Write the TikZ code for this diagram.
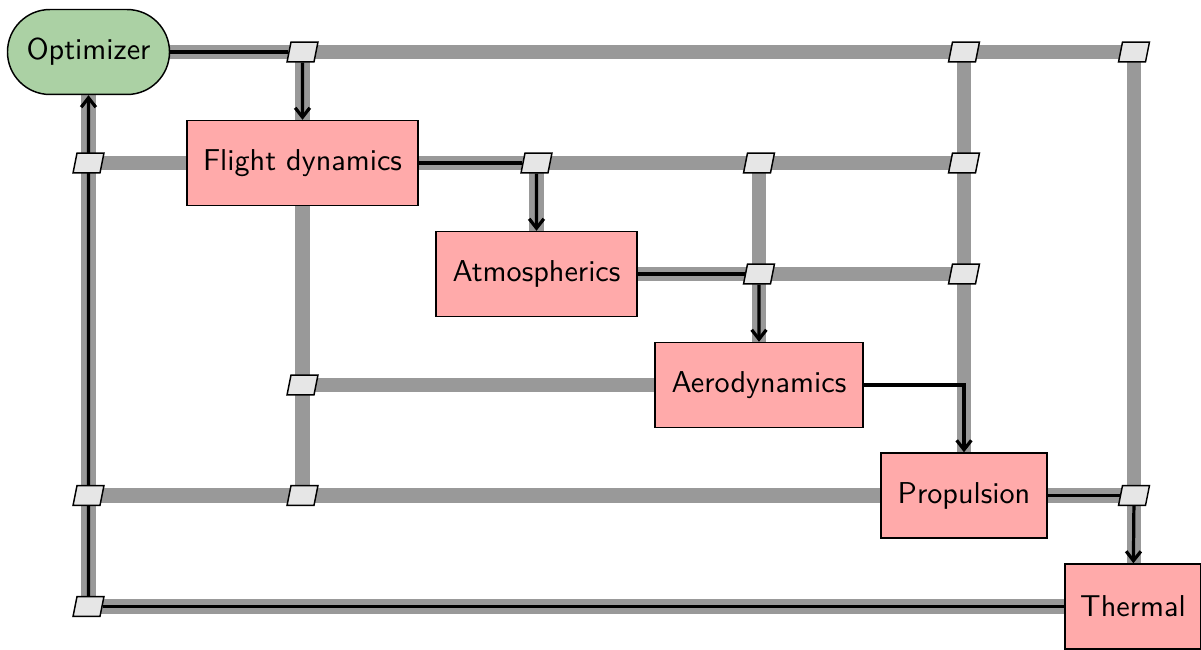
\documentclass[tikz,border=0pt]{standalone}
\usetikzlibrary{arrows.meta}
\pgfdeclarelayer{graylayer}
\pgfdeclarelayer{flowlayer}
\pgfsetlayers{graylayer,flowlayer,main}
\definecolor{compfill}{RGB}{255,170,170}
\definecolor{optfill}{RGB}{171,209,164}
\definecolor{datafill}{RGB}{230,230,230}
\definecolor{linegray}{RGB}{153,153,153}
\tikzset{
  comp/.style={draw=black, line width=0.5pt, fill=compfill, minimum height=29pt, inner sep=0pt, font=\sffamily\fontsize{10.3}{12}\selectfont},
  optbox/.style={draw=black, line width=0.5pt, fill=optfill, rounded corners=14.5pt, minimum height=29pt, minimum width=55.3pt, inner sep=0pt, font=\sffamily\fontsize{10.3}{12}\selectfont},
  datanode/.style={rectangle, xslant=0.2, transform shape, draw=black, line width=0.5pt, fill=datafill, minimum width=9.2pt, minimum height=6.8pt, inner sep=0pt},
  dataline/.style={draw=linegray, line width=4.8pt},
  flowline/.style={draw=black, line width=1.1pt},
  flowarrow/.style={flowline, -{Straight Barb[length=3.2pt,width=5pt]}},
}
\begin{document}
\begin{tikzpicture}[x=0.3413pt, y=-0.3413pt]
\useasboundingbox (0,0) rectangle (1201,650);
% components
\node[optbox] (opt) at (88.5,52) {Optimizer};
\node[comp, minimum width=78.8pt] (fd) at (302.5,163) {Flight dynamics};
\node[comp, minimum width=68.6pt] (atm) at (536.5,274) {Atmospherics};
\node[comp, minimum width=71pt] (aero) at (759,385) {Aerodynamics};
\node[comp, minimum width=56.7pt] (prop) at (964,495.5) {Propulsion};
\node[comp, minimum width=46.4pt] (therm) at (1133,606.5) {Thermal};
% data nodes
\node[datanode] (d01) at (302.5,52) {};
\node[datanode] (d04) at (964,52) {};
\node[datanode] (d05) at (1134,52) {};
\node[datanode] (d10) at (88.5,163) {};
\node[datanode] (d12) at (536.5,163) {};
\node[datanode] (d13) at (759,163) {};
\node[datanode] (d14) at (964,163) {};
\node[datanode] (d23) at (759,274) {};
\node[datanode] (d24) at (964,274) {};
\node[datanode] (d31) at (302.5,385) {};
\node[datanode] (d40) at (88.5,495.5) {};
\node[datanode] (d41) at (302.5,495.5) {};
\node[datanode] (d45) at (1134,495.5) {};
\node[datanode] (d50) at (88.5,606.5) {};
% gray data lines
\begin{pgfonlayer}{graylayer}
\path[dataline] (opt.center) -- (d05.center);
\path[dataline] (d01.center) -- (fd.center);
\path[dataline] (d04.center) -- (prop.center);
\path[dataline] (d05.center) -- (d45.center) -- (therm.center -| d45.center);
\path[dataline] (d10.center) -- (fd.center);
\path[dataline] (fd.center) -- (d14.center);
\path[dataline] (d12.center) -- (atm.center);
\path[dataline] (d13.center) -- (aero.center);
\path[dataline] (atm.center) -- (d24.center);
\path[dataline] (fd.center) -- (d41.center);
\path[dataline] (d31.center) -- (aero.center);
\path[dataline] (d40.center) -- (prop.center);
\path[dataline] (prop.center) -- (d45.center);
\path[dataline] (d50.center) -- (therm.center);
\path[dataline] (opt.center) -- (d50.center);
\end{pgfonlayer}
% black process flow
\begin{pgfonlayer}{flowlayer}
\path[flowline] (opt) -- (d01);
\path[flowarrow] (d01) -- (fd);
\path[flowline] (fd) -- (d12);
\path[flowarrow] (d12) -- (atm);
\path[flowline] (atm) -- (d23);
\path[flowarrow] (d23) -- (aero);
\path[flowarrow] (aero.east) -| (prop.north);
\path[flowline] (prop) -- (d45);
\path[flowarrow] (d45) -- (therm);
\path[flowline] (therm) -- (d50);
\path[flowarrow] (d50) -- (opt);
\end{pgfonlayer}
\end{tikzpicture}
\end{document}
